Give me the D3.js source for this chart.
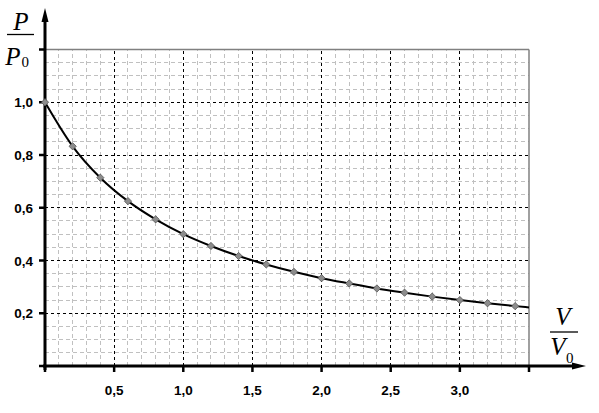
<!DOCTYPE html>
<html><head><meta charset="utf-8">
<script src="https://cdn.jsdelivr.net/npm/d3@7"></script>
<style>body{margin:0;background:#fff}svg{display:block}</style>
</head><body>
<svg id="c" width="599" height="413"></svg>
<script>
const vRatio = [0,0.2,0.4,0.6,0.8,1.0,1.2,1.4,1.6,1.8,2.0,2.2,2.4,2.6,2.8,3.0,3.2,3.4];
const pRatio = [1.0,0.833,0.714,0.625,0.556,0.5,0.455,0.417,0.385,0.357,0.333,0.313,0.294,0.278,0.263,0.25,0.238,0.227];
const lineEnd = {v:3.5, p:0.222};
const xTicks = [0.5,1.0,1.5,2.0,2.5,3.0];
const yTicks = [0.2,0.4,0.6,0.8,1.0];

const svg = d3.select('#c');
const x = d3.scaleLinear().domain([0,3.5]).range([45,529]);
const y = d3.scaleLinear().domain([0,1.2]).range([366,49.5]);
const fmt = d => d.toFixed(1).replace('.',',');

// minor grid
const g = svg.append('g');
d3.range(1,35).forEach(i=>{ const v=i/10; if(i%5===0) return;
  g.append('line').attr('x1',x(v)).attr('x2',x(v)).attr('y1',y(0)).attr('y2',y(1.2))
   .attr('stroke','#c0c0c0').attr('stroke-width',1).attr('stroke-dasharray','4,3').attr('shape-rendering','crispEdges');
});
d3.range(1,24).forEach(i=>{ const v=i/20; if(i%4===0) return;
  g.append('line').attr('y1',y(v)).attr('y2',y(v)).attr('x1',x(0)).attr('x2',x(3.5))
   .attr('stroke','#c0c0c0').attr('stroke-width',1).attr('stroke-dasharray','4,3').attr('shape-rendering','crispEdges');
});
// major grid
xTicks.forEach(v=>{
  g.append('line').attr('x1',x(v)).attr('x2',x(v)).attr('y1',y(0)).attr('y2',y(1.2))
   .attr('stroke','#000').attr('stroke-width',1).attr('stroke-dasharray','3,3').attr('shape-rendering','crispEdges');
});
yTicks.forEach(v=>{
  g.append('line').attr('y1',y(v)).attr('y2',y(v)).attr('x1',x(0)).attr('x2',x(3.5))
   .attr('stroke','#000').attr('stroke-width',1).attr('stroke-dasharray','3,3').attr('shape-rendering','crispEdges');
});
// border lines
g.append('line').attr('x1',x(0)).attr('x2',x(3.5)).attr('y1',y(1.2)).attr('y2',y(1.2)).attr('stroke','#808080').attr('stroke-width',1.5);
g.append('line').attr('x1',x(3.5)).attr('x2',x(3.5)).attr('y1',y(1.2)).attr('y2',y(0)).attr('stroke','#808080').attr('stroke-width',1.5);

// axes
const ax = svg.append('g');
ax.append('line').attr('x1',x(0)).attr('x2',x(0)).attr('y1',y(0)+4).attr('y2',18).attr('stroke','#000').attr('stroke-width',3);
ax.append('path').attr('d',`M${x(0)},8 L${x(0)-3.5},22 L${x(0)+3.5},22 Z`).attr('fill','#000');
ax.append('line').attr('x1',x(0)-2).attr('x2',575).attr('y1',y(0)).attr('y2',y(0)).attr('stroke','#000').attr('stroke-width',3);
ax.append('path').attr('d',`M586,${y(0)} L572,${y(0)-3.5} L572,${y(0)+3.5} Z`).attr('fill','#000');
// ticks
[0,0.2,0.4,0.6,0.8,1.0,1.2].forEach(v=>{
  ax.append('line').attr('x1',x(0)-6).attr('x2',x(0)).attr('y1',y(v)).attr('y2',y(v)).attr('stroke','#000').attr('stroke-width',2.5);
});
[0,0.5,1.0,1.5,2.0,2.5,3.0,3.5].forEach(v=>{
  ax.append('line').attr('x1',x(v)).attr('x2',x(v)).attr('y1',y(0)).attr('y2',y(0)+6).attr('stroke','#000').attr('stroke-width',2.5);
});
// tick labels
yTicks.forEach(v=>{
  ax.append('text').attr('x',33).attr('y',y(v)+5).attr('text-anchor','end')
   .attr('font-family','Liberation Sans, Arial, sans-serif').attr('font-weight','bold').attr('font-size',13.5).text(fmt(v));
});
xTicks.forEach(v=>{
  ax.append('text').attr('x',x(v)).attr('y',395).attr('text-anchor','middle')
   .attr('font-family','Liberation Sans, Arial, sans-serif').attr('font-weight','bold').attr('font-size',13.5).text(fmt(v));
});

// curve
const pts = vRatio.map((v,i)=>({v, p:pRatio[i]}));
const linePts = pts.concat([lineEnd]);
const line = d3.line().x(d=>x(d.v)).y(d=>y(d.p)).curve(d3.curveMonotoneX);
svg.append('path').datum(linePts).attr('d',line).attr('fill','none').attr('stroke','#000').attr('stroke-width',2);
svg.append('g').selectAll('path').data(pts).join('path')
  .attr('d',d3.symbol().type(d3.symbolDiamond2 || d3.symbolDiamond).size(34))
  .attr('transform',d=>`translate(${x(d.v)},${y(d.p)})`)
  .attr('fill','#8c8c8c').attr('stroke','#555').attr('stroke-width',0.8);

// axis titles
function frac(topX, topBase, barX1, barX2, barY, botX, botBase, subX, subBase, letter){
  const t = svg.append('g');
  const serif = 'Liberation Serif, Times New Roman, serif';
  t.append('text').attr('x',topX).attr('y',topBase).attr('text-anchor','middle')
   .attr('font-family',serif).attr('font-style','italic').attr('font-size',25).text(letter);
  t.append('line').attr('x1',barX1).attr('x2',barX2).attr('y1',barY).attr('y2',barY).attr('stroke','#000').attr('stroke-width',1.3);
  t.append('text').attr('x',botX).attr('y',botBase).attr('text-anchor','middle')
   .attr('font-family',serif).attr('font-style','italic').attr('font-size',25).text(letter);
  t.append('text').attr('x',subX).attr('y',subBase).attr('text-anchor','start')
   .attr('font-family',serif).attr('font-size',15).text('0');
}
frac(21, 30, 7, 34, 34.5, 13, 65, 21.5, 67, 'P');
frac(563, 325, 550, 578, 332, 558, 355, 566, 363, 'V');
</script>
</body></html>
